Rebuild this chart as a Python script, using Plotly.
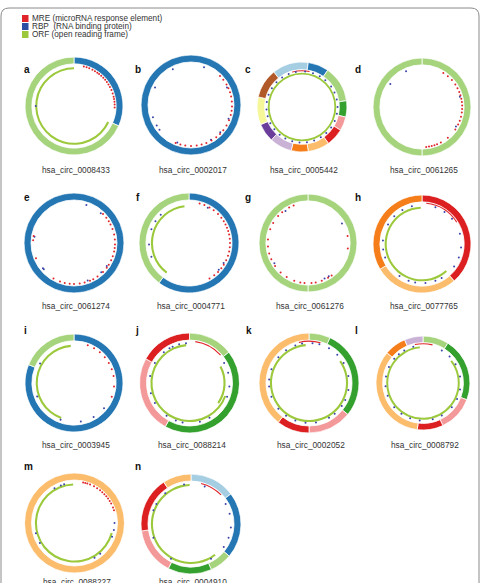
import plotly.graph_objects as go

W, H = 481, 583

# ---- palette (Paired-like, as in the figure) ----
LB, B, LG, G = "#a6cee3", "#2577b3", "#a5d47d", "#34a02d"
P, R, LO, O = "#f4999a", "#dc1f20", "#fbbc6c", "#f57e1a"
LP, PU, Y, BR = "#cab2d6", "#6a3d9a", "#f6f69a", "#b15928"
ORF_COLOR = "#9cc93c"
RED_DOT = "#e0252a"
BLUE_DOT = "#3b45a8"

PANEL_LETTERS = ["a", "b", "c", "d", "e", "f", "g", "h", "i", "j", "k", "l", "m", "n"]
PANEL_NAMES = ["hsa_circ_0008433", "hsa_circ_0002017", "hsa_circ_0005442", "hsa_circ_0061265",
               "hsa_circ_0061274", "hsa_circ_0004771", "hsa_circ_0061276", "hsa_circ_0077765",
               "hsa_circ_0003945", "hsa_circ_0088214", "hsa_circ_0002052", "hsa_circ_0008792",
               "hsa_circ_0088227", "hsa_circ_0004910"]

# layout positions (pixels)
CENTERS = [(74, 106), (191, 105), (302, 107), (422, 107),
           (74, 243), (189, 243), (308, 243), (422, 244),
           (74, 383), (189.5, 383), (309, 383), (423, 383),
           (74.5, 523), (191, 524)]
RADII = [49, 50, 45, 49, 50, 50, 49, 49, 49, 50, 50, 47, 50, 50]
RING_INNER = [0.86, 0.86, 0.83, 0.86, 0.86, 0.86, 0.86, 0.86, 0.86, 0.86, 0.86, 0.86, 0.86, 0.86]
LETTER_POS = [(22, 69), (133, 69), (243, 69), (353, 69),
              (22, 197), (134, 197), (243, 197), (353, 197),
              (22, 330), (133, 330), (244, 330), (353, 330),
              (22, 466), (133, 466)]
NAME_Y = [170, 170, 170, 170, 306, 306, 306, 306, 445, 445, 445, 445, 582, 582]

# ---- segments of the outer ring: (start, end) in degrees clockwise from top ----
SEGMENTS = [
    [(0, 114), (114, 360)],
    [(0, 360)],
    [(-39, 8), (8, 35), (35, 82), (82, 103), (103, 121), (121, 144), (144, 172),
     (172, 194), (194, 223), (223, 247), (247, 283), (283, 321)],
    [(0, 180), (180, 360)],
    [(0, 360)],
    [(0, 217), (217, 360)],
    [(0, 180), (180, 360)],
    [(0, 139), (139, 239), (239, 360)],
    [(0, 292), (292, 360)],
    [(0, 52), (52, 209), (209, 299), (299, 360)],
    [(0, 25), (25, 129), (129, 180), (180, 218), (218, 360)],
    [(0, 32), (32, 111), (111, 155), (155, 187), (187, 310), (310, 337), (337, 360)],
    [(0, 360)],
    [(0, 53), (53, 130), (130, 156), (156, 207), (207, 262), (262, 327), (327, 360)],
]
SEG_COLORS = [
    [B, LG],
    [B],
    [LB, B, LG, G, P, R, LO, O, LP, PU, Y, BR],
    [LG, LG],
    [B],
    [B, LG],
    [LG, LG],
    [R, LO, O],
    [B, LG],
    [LG, G, P, R],
    [LG, G, P, R, LO],
    [LG, G, P, R, LO, O, LP],
    [LO],
    [LB, B, LG, G, P, R, LO],
]

# ---- ORF arcs: (start, end, radius) ----
ORF_ARCS = [
    [(115, 360, 0.75)],
    [],
    [(0, 360, 0.72)],
    [],
    [],
    [(217, 353, 0.72)],
    [],
    [(138, 358, 0.72)],
    [(200, 355, 0.74)],
    [(110, 355, 0.74), (62, 125, 0.68)],
    [(55, 355, 0.74)],
    [(52, 355, 0.74)],
    [(105, 358, 0.75)],
    [(142, 358, 0.76)],
]

# ---- MRE clusters drawn as thin red arcs: (start, end) ----
MRE_ARCS = [[], [], [(-16, 12)], [], [], [], [], [(6, 58)], [], [(8, 48)],
            [(-14, 16)], [(-12, 14)], [], [(14, 46)]]

# ---- MRE dots (red) and RBP dots (blue): angles ----
RED_THETA = [
    [14, 18, 22, 27, 31, 35, 38, 42, 46, 50, 54, 58, 62, 67, 72, 77, 80, 84, 88, 92],
    [45, 52, 60, 66, 72, 78, 85, 92, 98, 104, 112, 120, 128, 135, 142, 150, 158, 165, 172, 180, 188, 195, 202],
    [],
    [32, 40, 48, 56, 62, 68, 73, 78, 83, 88, 93, 98, 104, 110, 116, 124, 140, 152, 158, 162, 166, 170, 174],
    [45, 52, 58, 63, 70, 78, 85, 92, 97, 102, 109, 115, 122, 127, 135, 145, 152, 157, 165, 172,
     180, 186, 193, 200, 210, 248, 274, 280],
    [15, 22, 30, 37, 45, 52, 58, 63, 68, 73, 78, 84, 90, 96, 102, 108, 115, 122, 128, 135, 142, 150],
    [339, 332, 320, 312, 300, 290, 275, 265, 255, 246, 235, 223, 212, 200, 191, 185, 175, 169,
     160, 150, 144, 98, 80],
    [],
    [20, 30, 40, 50, 60, 70, 80, 95, 110],
    [],
    [],
    [],
    [12, 15, 18, 22, 28, 33, 38, 42, 46, 50, 54, 58, 62, 68, 72],
    [],
]
BLUE_THETA = [
    [270],
    [333, 296, 252, 239, 232, 19, 64, 110, 133, 200, 150],
    [5, 18, 30, 41, 55, 66, 78, 90, 101, 113, 125, 137, 148, 160, 172, 184, 196, 208, 219,
     231, 243, 255, 266, 278, 290, 302, 314, 326, 338, 350],
    [336, 306, 75, 120],
    [18, 42, 279, 231, 229, 137, 125, 160],
    [303, 290, 268, 250, 315, 120, 132, 28],
    [60, 239, 155, 148, 325],
    [20, 35, 50, 75, 95, 110, 125, 150, 160, 175, 190, 200, 215, 250, 262, 275, 300, 315, 330, 345],
    [300, 250, 150, 170, 200, 130],
    [335, 330, 345, 355, 60, 75, 95, 110, 150, 165, 190, 200, 215, 240, 255, 280, 300, 320],
    [340, 350, 5, 15, 30, 45, 60, 80, 100, 115, 125, 140, 150, 170, 185, 200, 215, 230, 250,
     265, 275, 290, 310, 325],
    [345, 330, 320, 310, 30, 45, 60, 80, 100, 115, 130, 150, 165, 185, 200, 215, 230, 250, 265, 280, 295],
    [330, 340, 345, 90, 100, 110, 140, 150, 240, 255],
    [350, 20, 60, 75, 95, 110, 125, 150, 210, 250, 290, 300, 320],
]
RED_TRACK = [0.83, 0.82, 0.8, 0.82, 0.82, 0.82, 0.82, 0.82, 0.82, 0.82, 0.82, 0.82, 0.83, 0.82]
BLUE_TRACK = [0.78, 0.8, 0.79, 0.8, 0.8, 0.8, 0.8, 0.8, 0.8, 0.8, 0.8, 0.8, 0.8, 0.8]

LEGEND_LABELS = ["MRE (microRNA response element)", "RBP  (RNA binding protein)", "ORF (open reading frame)"]
LEGEND_COLORS = ["#e0252a", "#2b4ea2", "#9cc93c"]

fig = go.Figure()

# full-page cartesian frame for layout elements
fig.add_trace(go.Scatter(x=[0, W], y=[0, H], mode="markers", marker=dict(opacity=0),
                         hoverinfo="skip", showlegend=False))

layout_polars = {}
for i in range(len(PANEL_LETTERS)):
    pid = "polar" if i == 0 else f"polar{i + 1}"
    cx, cy = CENTERS[i]
    rad = RADII[i]
    layout_polars[pid] = dict(
        domain=dict(x=[(cx - rad) / W, (cx + rad) / W], y=[1 - (cy + rad) / H, 1 - (cy - rad) / H]),
        bgcolor="rgba(0,0,0,0)",
        barmode="overlay",
        radialaxis=dict(visible=False, range=[0, 1]),
        angularaxis=dict(visible=False, rotation=90, direction="clockwise"),
    )
    segs = SEGMENTS[i]
    inner = RING_INNER[i]
    fig.add_trace(go.Barpolar(
        theta=[(s + e) / 2 for s, e in segs], width=[e - s for s, e in segs],
        base=[inner] * len(segs), r=[1 - inner] * len(segs),
        marker=dict(color=SEG_COLORS[i], line=dict(color="white", width=0.8)),
        subplot=pid, showlegend=False, hoverinfo="skip"))
    for s, e, rr in ORF_ARCS[i]:
        fig.add_trace(go.Barpolar(
            theta=[(s + e) / 2], width=[e - s], base=[rr], r=[0.042],
            marker=dict(color=ORF_COLOR, line=dict(width=0)),
            subplot=pid, showlegend=False, hoverinfo="skip"))
    for s, e in MRE_ARCS[i]:
        fig.add_trace(go.Barpolar(
            theta=[(s + e) / 2], width=[e - s], base=[inner - 0.035], r=[0.022],
            marker=dict(color=RED_DOT, line=dict(width=0)),
            subplot=pid, showlegend=False, hoverinfo="skip"))
    if BLUE_THETA[i]:
        fig.add_trace(go.Scatterpolar(
            theta=BLUE_THETA[i], r=[BLUE_TRACK[i]] * len(BLUE_THETA[i]), mode="markers",
            marker=dict(color=BLUE_DOT, size=2), subplot=pid, showlegend=False, hoverinfo="skip"))
    if RED_THETA[i]:
        fig.add_trace(go.Scatterpolar(
            theta=RED_THETA[i], r=[RED_TRACK[i]] * len(RED_THETA[i]), mode="markers",
            marker=dict(color=RED_DOT, size=2), subplot=pid, showlegend=False, hoverinfo="skip"))

annotations = []
for i in range(len(PANEL_LETTERS)):
    lx, ly = LETTER_POS[i]
    annotations.append(dict(x=lx, y=ly, xref="x", yref="y", text=f"<b>{PANEL_LETTERS[i]}</b>",
                            showarrow=False, xanchor="left", yanchor="middle",
                            font=dict(family="Liberation Sans", size=10, color="#111")))
    annotations.append(dict(x=CENTERS[i][0] + 2, y=NAME_Y[i], xref="x", yref="y", text=PANEL_NAMES[i],
                            showarrow=False, xanchor="center", yanchor="middle",
                            font=dict(family="Liberation Sans", size=8.3, color="#333")))

shapes = []
# outer frame with rounded top corners
shapes.append(dict(type="path", xref="x", yref="y",
                   path="M 1,600 L 1,16 Q 1,8 9,8 L 471,8 Q 479,8 479,16 L 479,600",
                   line=dict(color="#8a8a8a", width=1)))
LEG_Y = [18.5, 26.5, 34.5]
for k in range(3):
    shapes.append(dict(type="rect", xref="x", yref="y", x0=22, x1=28.5, y0=LEG_Y[k] - 3.5, y1=LEG_Y[k] + 3.5,
                       fillcolor=LEGEND_COLORS[k], line=dict(width=0)))
    annotations.append(dict(x=29.5, y=LEG_Y[k], xref="x", yref="y", text=LEGEND_LABELS[k].replace("  ", "&nbsp; "),
                            showarrow=False, xanchor="left", yanchor="middle",
                            font=dict(family="Liberation Sans", size=8.2, color="#333")))

fig.update_layout(
    width=W, height=H, margin=dict(l=0, r=0, t=0, b=0),
    paper_bgcolor="white", plot_bgcolor="rgba(0,0,0,0)",
    xaxis=dict(range=[0, W], visible=False, domain=[0, 1], fixedrange=True),
    yaxis=dict(range=[H, 0], visible=False, domain=[0, 1], fixedrange=True),
    annotations=annotations, shapes=shapes, showlegend=False,
    **layout_polars,
)

fig.write_html("out.html")
